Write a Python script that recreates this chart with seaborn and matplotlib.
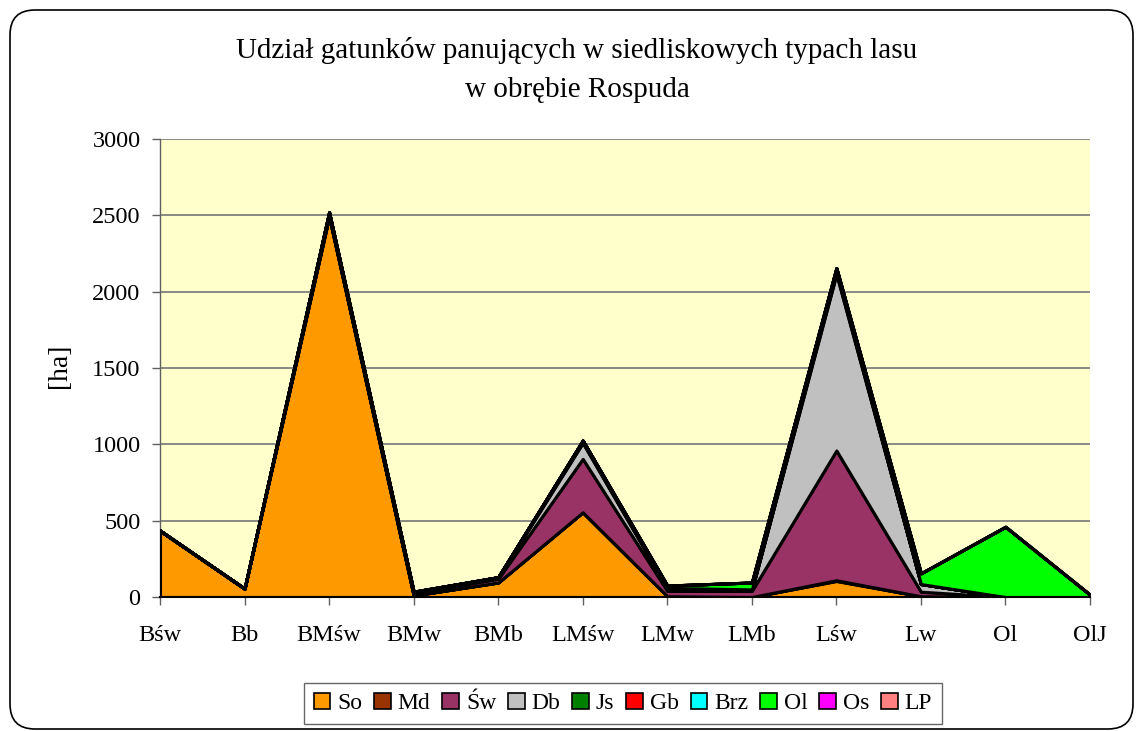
import numpy as np
import pandas as pd
import seaborn as sns
import matplotlib
matplotlib.use("Agg")
import matplotlib.pyplot as plt
from matplotlib.patches import Patch, FancyBboxPatch
from matplotlib.transforms import IdentityTransform

categories = ["Bśw", "Bb", "BMśw", "BMw", "BMb", "LMśw", "LMw", "LMb", "Lśw", "Lw", "Ol", "OlJ"]
species = ["So", "Md", "Św", "Db", "Js", "Gb", "Brz", "Ol", "Os", "LP"]

so  = [435, 55, 2490, 10, 95, 555, 5, 0, 105, 5, 0, 0]
md  = [0, 0, 5, 0, 0, 0, 0, 0, 5, 0, 0, 0]
sw  = [0, 0, 15, 15, 25, 350, 35, 40, 850, 30, 0, 0]
db  = [0, 0, 0, 5, 5, 105, 15, 5, 1155, 50, 0, 0]
js  = [0, 0, 5, 0, 5, 10, 5, 5, 20, 0, 0, 0]
gb  = [0, 0, 0, 0, 0, 0, 0, 0, 0, 0, 0, 0]
brz = [0, 0, 5, 5, 0, 5, 0, 0, 10, 0, 0, 0]
ol  = [0, 0, 0, 0, 0, 0, 15, 45, 10, 70, 460, 15]
os_ = [0, 0, 0, 0, 0, 0, 0, 0, 0, 0, 0, 0]
lp  = [0, 0, 0, 0, 0, 0, 0, 0, 0, 0, 0, 0]

colors = ["#FF9900", "#993300", "#993366", "#C0C0C0", "#008000",
          "#FF0000", "#00FFFF", "#00FF00", "#FF00FF", "#FF8080"]

yticks = [0, 500, 1000, 1500, 2000, 2500, 3000]

df = pd.DataFrame({"So": so, "Md": md, "Św": sw, "Db": db, "Js": js, "Gb": gb,
                   "Brz": brz, "Ol": ol, "Os": os_, "LP": lp}, index=categories)

sns.set_theme(style="white")
plt.rcParams["font.family"] = ["Liberation Serif", "DejaVu Serif"]
plt.rcParams["text.color"] = "black"
plt.rcParams["axes.labelcolor"] = "black"

W, H = 1136, 731
fig = plt.figure(figsize=(W / 100, H / 100), dpi=100)
fig.patch.set_facecolor("white")

ax = fig.add_axes([160 / W, 1 - 597 / H, (1090 - 160) / W, (597 - 139) / H])
ax.set_facecolor("#FFFFCC")

x = np.arange(len(categories))
ax.stackplot(x, *[df[s].values for s in species], colors=colors,
             edgecolor="black", linewidth=2.2, zorder=3)

ax.set_xlim(0, len(categories) - 1)
ax.set_ylim(0, 3000)
ax.set_yticks(yticks)
ax.set_yticklabels([str(v) for v in yticks])
ax.set_xticks(x)
ax.set_xticklabels(categories)

ax.yaxis.grid(True, color="#808080", linewidth=1.3, zorder=1)
ax.xaxis.grid(False)
ax.set_axisbelow(True)

for s in ["top", "right"]:
    ax.spines[s].set_visible(False)
ax.spines["left"].set_color("#606060")
ax.spines["left"].set_linewidth(1.0)
ax.spines["bottom"].set_color("black")
ax.spines["bottom"].set_linewidth(1.5)
ax.spines["bottom"].set_zorder(4)

ax.tick_params(axis="y", which="major", direction="out", length=6, width=1,
               color="#606060", labelcolor="black", labelsize=17.5, pad=8, left=True)
ax.tick_params(axis="x", which="major", direction="out", length=6, width=1,
               color="#606060", labelcolor="black", labelsize=17.5, pad=14, bottom=True)

fig.text(60 / W, 1 - 366 / H, "[ha]", rotation=90, ha="center", va="center",
         fontsize=20, color="black")

fig.text(577 / W, 1 - 50 / H, "Udział gatunków panujących w siedliskowych typach lasu",
         ha="center", va="center", fontsize=21, color="black")
fig.text(577 / W, 1 - 90 / H, "w obrębie Rospuda",
         ha="center", va="center", fontsize=21, color="black")

handles = [Patch(facecolor=c, edgecolor="black", linewidth=1.2, label=s)
           for s, c in zip(species, colors)]
leg = fig.legend(handles=handles, loc="center", ncol=len(species),
                 bbox_to_anchor=(623 / W, 1 - 703.5 / H), frameon=True,
                 fontsize=17, handlelength=0.7, handleheight=0.7,
                 handletextpad=0.3, columnspacing=0.5, borderpad=0.4,
                 fancybox=False, labelcolor="black")
leg.get_frame().set_edgecolor("#404040")
leg.get_frame().set_linewidth(1.0)

border = FancyBboxPatch((10, 2), 1123, 719, boxstyle="round,pad=0,rounding_size=25",
                        transform=IdentityTransform(), facecolor="none",
                        edgecolor="black", linewidth=1.2, zorder=0)
fig.patches.append(border)

fig.savefig("out.png", dpi=100)
